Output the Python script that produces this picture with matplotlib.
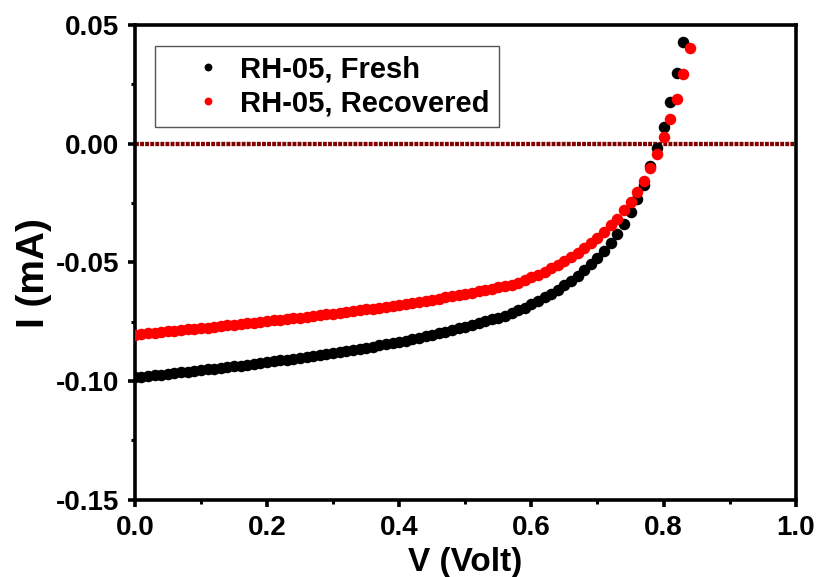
import matplotlib
matplotlib.use("Agg")
import matplotlib.pyplot as plt
from matplotlib.ticker import MultipleLocator, FormatStrFormatter

plt.rcParams['font.family'] = ['Liberation Sans', 'DejaVu Sans']
plt.rcParams['font.weight'] = 'bold'

# bias voltage (V) and current (mA) for both cells
v_fresh = [round(0.01 * i, 2) for i in range(84)]
i_fresh = [
    -0.0985, -0.0982, -0.0979, -0.0976, -0.0973, -0.0970, -0.0967, -0.0964, -0.0961, -0.0958,
    -0.0955, -0.0951, -0.0948, -0.0945, -0.0941, -0.0938, -0.0935, -0.0931, -0.0928, -0.0924,
    -0.0921, -0.0917, -0.0913, -0.0910, -0.0906, -0.0902, -0.0898, -0.0894, -0.0890, -0.0886,
    -0.0882, -0.0878, -0.0873, -0.0869, -0.0864, -0.0860, -0.0855, -0.0850, -0.0845, -0.0840,
    -0.0835, -0.0830, -0.0824, -0.0818, -0.0812, -0.0806, -0.0800, -0.0793, -0.0786, -0.0779,
    -0.0772, -0.0765, -0.0757, -0.0749, -0.0741, -0.0733, -0.0725, -0.0715, -0.0703, -0.0691,
    -0.0677, -0.0663, -0.0647, -0.0632, -0.0615, -0.0597, -0.0577, -0.0556, -0.0534, -0.0508,
    -0.0481, -0.0451, -0.0418, -0.0380, -0.0338, -0.0289, -0.0233, -0.0173, -0.0095, -0.0018,
    0.0069, 0.0174, 0.0295, 0.0427,
]

v_recovered = [round(0.01 * i, 2) for i in range(85)]
i_recovered = [
    -0.0805, -0.0802, -0.0800, -0.0797, -0.0794, -0.0791, -0.0789, -0.0786, -0.0783, -0.0780,
    -0.0777, -0.0775, -0.0772, -0.0769, -0.0766, -0.0763, -0.0760, -0.0757, -0.0754, -0.0751,
    -0.0748, -0.0745, -0.0742, -0.0739, -0.0736, -0.0733, -0.0730, -0.0727, -0.0724, -0.0720,
    -0.0717, -0.0713, -0.0710, -0.0706, -0.0703, -0.0699, -0.0695, -0.0691, -0.0687, -0.0683,
    -0.0679, -0.0675, -0.0671, -0.0667, -0.0662, -0.0658, -0.0653, -0.0648, -0.0643, -0.0638,
    -0.0633, -0.0628, -0.0623, -0.0618, -0.0612, -0.0606, -0.0600, -0.0594, -0.0586, -0.0576,
    -0.0564, -0.0552, -0.0539, -0.0525, -0.0510, -0.0494, -0.0477, -0.0460, -0.0442, -0.0421,
    -0.0397, -0.0372, -0.0345, -0.0316, -0.0282, -0.0246, -0.0205, -0.0159, -0.0103, -0.0042,
    0.0028, 0.0104, 0.0189, 0.0291, 0.0401,
]

x_ticks = [0.0, 0.2, 0.4, 0.6, 0.8, 1.0]
y_ticks = [-0.15, -0.10, -0.05, 0.00, 0.05]

fig = plt.figure(figsize=(8.17, 5.77), dpi=100)
ax = fig.add_axes([0.165, 0.134, 0.809, 0.823])

# zero-current reference line
ax.axhline(0, color='#820000', lw=3.1, linestyle=(0, (0.9, 0.28)), zorder=1)

ax.plot(v_fresh, i_fresh, 'o', color='black', ms=8.3, mec='none',
        label='RH-05, Fresh', zorder=2)
ax.plot(v_recovered, i_recovered, 'o', color='#ff0000', ms=8.3, mec='none',
        label='RH-05, Recovered', zorder=3)

ax.set_xlim(0, 1.0)
ax.set_ylim(-0.15, 0.05)
ax.set_xticks(x_ticks)
ax.set_yticks(y_ticks)
ax.xaxis.set_minor_locator(MultipleLocator(0.1))
ax.yaxis.set_minor_locator(MultipleLocator(0.025))
ax.xaxis.set_major_formatter(FormatStrFormatter('%.1f'))
ax.yaxis.set_major_formatter(FormatStrFormatter('%.2f'))

for s in ax.spines.values():
    s.set_linewidth(2.6)
ax.tick_params(which='major', direction='out', length=5, width=2.6,
               labelsize=20, pad=6)
ax.tick_params(which='minor', direction='out', length=3, width=2.2)
for lbl in ax.get_xticklabels() + ax.get_yticklabels():
    lbl.set_fontweight('bold')

ax.set_xlabel('V (Volt)', fontsize=24, fontweight='bold', labelpad=4)
ax.set_ylabel('I (mA)', fontsize=28, fontweight='bold')
ax.yaxis.set_label_coords(-0.125, 0.478)

leg = ax.legend(loc='upper left', bbox_to_anchor=(0.030, 0.955),
                borderaxespad=0, fontsize=21, markerscale=0.68,
                handletextpad=-0.4, fancybox=False, framealpha=1,
                edgecolor='#555555', borderpad=0.32, labelspacing=0.2,
                handlelength=3.0)
leg.get_frame().set_linewidth(1.0)
for t in leg.get_texts():
    t.set_fontweight('bold')

fig.savefig('out.png', dpi=100)
